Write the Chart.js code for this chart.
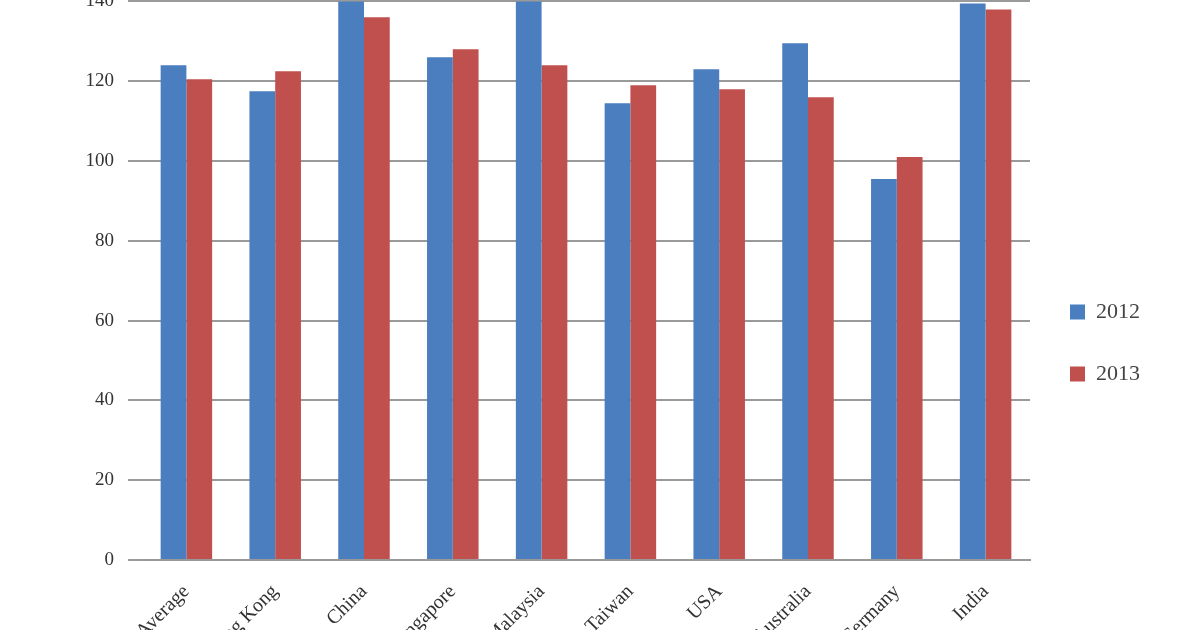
<!DOCTYPE html>
<html><head><meta charset="utf-8">
<script src="https://cdn.jsdelivr.net/npm/chart.js@4/dist/chart.umd.min.js"></script>
<style>
html,body{margin:0;padding:0;background:#fff;overflow:hidden;width:1200px;height:630px}
#wrap{position:absolute;left:0;top:-24px;width:1200px;height:734px}
</style></head>
<body><div id="wrap"><canvas id="c"></canvas></div>
<script>
const categories = ["Average","Hong Kong","China","Singapore","Malaysia","Taiwan","USA","Australia","Germany","India"];
const values2012 = [124,117.5,150,126,150,114.5,123,129.5,95.5,139.5];
const values2013 = [120.5,122.5,136,128,124,119,118,116,101,138];
const yTicks = [0,20,40,60,80,100,120,140];

new Chart(document.getElementById('c'), {
  type: 'bar',
  data: {
    labels: categories,
    datasets: [
      {label: '2012', data: values2012, backgroundColor: '#4a7ebf'},
      {label: '2013', data: values2013, backgroundColor: '#c0504d'}
    ]
  },
  options: {
    responsive: true, maintainAspectRatio: false, animation: false,
    layout: {padding: {top: 0, right: 50, left: 0, bottom: 0}},
    datasets: {bar: {barPercentage: 1, categoryPercentage: 0.58}},
    plugins: {
      tooltip: {enabled: false},
      legend: {
        position: 'right',
        labels: {font: {family: 'Liberation Serif', size: 22}, color: '#444',
          boxWidth: 15, boxHeight: 15, padding: 40}
      }
    },
    scales: {
      x: {
        grid: {display: false},
        border: {display: true, color: '#999', width: 2},
        ticks: {font: {family: 'Liberation Serif', size: 20}, color: '#333',
          maxRotation: 45, minRotation: 45, autoSkip: false, padding: 12},
        afterFit: s => { s.height = 150; }
      },
      y: {
        min: 0, max: 140,
        afterBuildTicks: s => { s.ticks = yTicks.map(v => ({value: v})); },
        grid: {color: '#9a9a9a', lineWidth: 2, tickLength: 14},
        border: {display: false},
        ticks: {font: {family: 'Liberation Serif', size: 19}, color: '#333', padding: 14},
        afterFit: s => { s.width = 142; }
      }
    }
  }
});
</script></body></html>
